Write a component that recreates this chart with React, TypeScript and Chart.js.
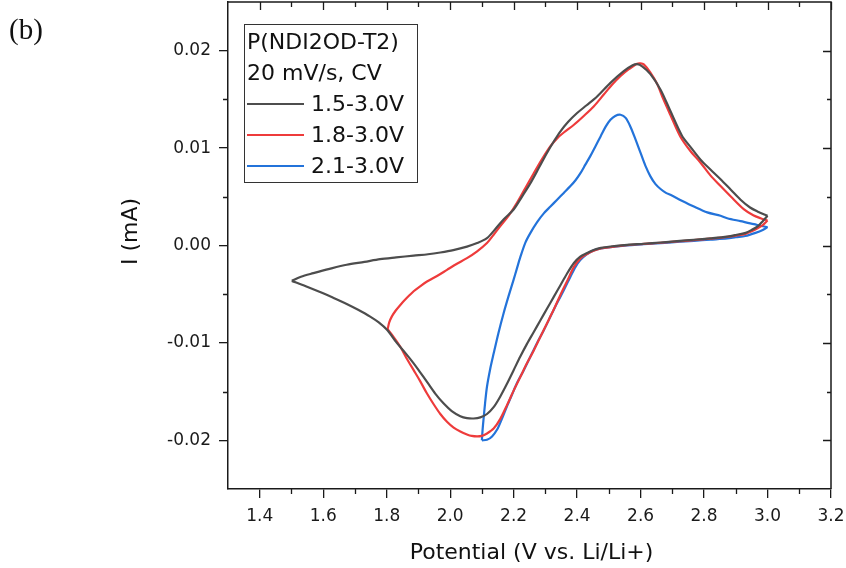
import React, { useEffect, useRef } from 'react';
import { Chart, registerables } from 'chart.js';

Chart.register(...registerables);

// Axis ticks
const xMajorTicks = [1.4, 1.6, 1.8, 2.0, 2.2, 2.4, 2.6, 2.8, 3.0, 3.2];
const xMinorTicks = [1.5, 1.7, 1.9, 2.1, 2.3, 2.5, 2.7, 2.9, 3.1];
const yMajorTicks = [-0.02, -0.01, 0, 0.01, 0.02];
const yMinorTicks = [-0.015, -0.005, 0.005, 0.015];

const xTitle = 'Potential (V vs. Li/Li+)';
const yTitle = 'I (mA)';
const panelLabel = '(b)';
const legendHeader = ['P(NDI2OD-T2)', '20 mV/s, CV'];
const seriesNames = ['1.5-3.0V', '1.8-3.0V', '2.1-3.0V'];
const seriesColors = ['#4d4d4d', '#ee3b3b', '#2373da'];

// 1.5-3.0 V : anodic (1.5 -> 3.0) and cathodic (3.0 -> 1.5) scans, [V, mA]
const black15Anodic = [
  [1.501, -0.00363], [1.53, -0.0032], [1.569, -0.00284], [1.62, -0.0024], [1.674, -0.00198],
  [1.73, -0.00168], [1.779, -0.0014], [1.83, -0.00122], [1.885, -0.00104], [1.93, -0.0009],
  [1.969, -0.00072], [2.01, -0.00048], [2.053, -0.00012], [2.085, 0.00025], [2.116, 0.00076],
  [2.14, 0.0016], [2.169, 0.0027], [2.2, 0.0037], [2.226, 0.005], [2.253, 0.0064],
  [2.28, 0.008], [2.305, 0.0095], [2.327, 0.0107], [2.347, 0.0117], [2.372, 0.0127],
  [2.4, 0.0136], [2.43, 0.0144], [2.463, 0.0153], [2.505, 0.0167], [2.547, 0.0179],
  [2.575, 0.0185], [2.589, 0.01862], [2.605, 0.0184], [2.631, 0.0176], [2.663, 0.016],
  [2.694, 0.0138], [2.73, 0.0113], [2.76, 0.01], [2.789, 0.0088], [2.82, 0.0078],
  [2.852, 0.0068], [2.885, 0.0057], [2.915, 0.0047], [2.945, 0.0039], [2.968, 0.0035],
  [3.0, 0.00305],
];
const black15Cathodic = [
  [3.0, 0.00305], [2.985, 0.0025], [2.97, 0.002], [2.95, 0.0016], [2.931, 0.0013],
  [2.9, 0.00108], [2.873, 0.00092], [2.82, 0.00074], [2.768, 0.00059], [2.715, 0.00045],
  [2.663, 0.00031], [2.61, 0.00018], [2.558, 0.00007], [2.505, -0.0001], [2.475, -0.00025],
  [2.452, -0.00046], [2.43, -0.0008], [2.41, -0.00115], [2.39, -0.0018], [2.368, -0.0029],
  [2.347, -0.0041], [2.326, -0.0053], [2.305, -0.0065], [2.284, -0.0077], [2.263, -0.0089],
  [2.242, -0.0101], [2.221, -0.0114], [2.2, -0.0128], [2.179, -0.0142], [2.158, -0.0155],
  [2.137, -0.0166], [2.116, -0.0173], [2.095, -0.01765], [2.074, -0.01776], [2.053, -0.01772],
  [2.032, -0.01752], [2.005, -0.017], [1.979, -0.0162], [1.953, -0.0152], [1.927, -0.014],
  [1.905, -0.013], [1.885, -0.0121], [1.858, -0.011], [1.832, -0.01], [1.801, -0.00866],
  [1.775, -0.0079], [1.748, -0.0073], [1.71, -0.0066], [1.674, -0.006], [1.63, -0.00535],
  [1.59, -0.00478], [1.545, -0.00418], [1.501, -0.00363],
];

// 1.8-3.0 V
const red18Anodic = [
  [1.803, -0.0086], [1.808, -0.0079], [1.816, -0.0073], [1.828, -0.0067], [1.843, -0.0061],
  [1.863, -0.0054], [1.885, -0.0047], [1.905, -0.0042], [1.927, -0.0037], [1.96, -0.0031],
  [1.99, -0.0025], [2.02, -0.0019], [2.053, -0.0013], [2.085, -0.0006], [2.116, 0.00025],
  [2.137, 0.0011], [2.158, 0.002], [2.185, 0.0031], [2.211, 0.0044], [2.237, 0.0059],
  [2.263, 0.0074], [2.29, 0.0089], [2.316, 0.0102], [2.337, 0.011], [2.358, 0.0116],
  [2.39, 0.0124], [2.421, 0.0133], [2.453, 0.0143], [2.484, 0.0155], [2.51, 0.0165],
  [2.537, 0.0174], [2.563, 0.0181], [2.589, 0.01867], [2.6, 0.0187], [2.61, 0.0186],
  [2.63, 0.0178], [2.652, 0.0166], [2.672, 0.015], [2.694, 0.0134], [2.725, 0.0112],
  [2.757, 0.0097], [2.789, 0.0085], [2.82, 0.0072], [2.852, 0.0061], [2.885, 0.005],
  [2.926, 0.0037], [2.955, 0.0031], [2.978, 0.0028], [3.0, 0.00257],
];
const red18Cathodic = [
  [3.0, 0.00257], [2.985, 0.0021], [2.97, 0.0018], [2.95, 0.00145], [2.931, 0.0012],
  [2.9, 0.00102], [2.873, 0.00089], [2.82, 0.0007], [2.768, 0.00055], [2.715, 0.00042],
  [2.663, 0.00028], [2.61, 0.00016], [2.558, 0.00004], [2.505, -0.00016], [2.475, -0.0003],
  [2.452, -0.00054], [2.43, -0.0009], [2.41, -0.00135], [2.39, -0.0022], [2.368, -0.0037],
  [2.347, -0.0051], [2.326, -0.0066], [2.305, -0.008], [2.284, -0.0094], [2.263, -0.0108],
  [2.242, -0.0121], [2.221, -0.0135], [2.2, -0.0149], [2.179, -0.0164], [2.158, -0.0178],
  [2.137, -0.0188], [2.116, -0.0193], [2.1, -0.01955], [2.085, -0.0196], [2.068, -0.01955],
  [2.053, -0.0194], [2.032, -0.0191], [2.011, -0.0187], [1.99, -0.0181], [1.969, -0.0173],
  [1.948, -0.0163], [1.927, -0.0152], [1.905, -0.0139], [1.885, -0.0128], [1.863, -0.0116],
  [1.843, -0.0104], [1.822, -0.0094], [1.803, -0.0086],
];

// 2.1-3.0 V
const blue21Anodic = [
  [2.1, -0.02], [2.102, -0.019], [2.105, -0.0179], [2.11, -0.0162], [2.116, -0.0145],
  [2.126, -0.0127], [2.137, -0.0111], [2.152, -0.009], [2.168, -0.007], [2.184, -0.0052],
  [2.2, -0.0035], [2.21, -0.0024], [2.221, -0.0012], [2.237, 0.0003], [2.253, 0.0013],
  [2.274, 0.0024], [2.295, 0.0033], [2.316, 0.004], [2.337, 0.0047], [2.358, 0.0054],
  [2.379, 0.0061], [2.395, 0.0067], [2.41, 0.0074], [2.426, 0.0083], [2.442, 0.0092],
  [2.458, 0.0102], [2.474, 0.0112], [2.49, 0.0122], [2.505, 0.0129], [2.52, 0.0133],
  [2.537, 0.01342], [2.553, 0.0131], [2.568, 0.0122], [2.584, 0.0109], [2.6, 0.0095],
  [2.615, 0.0082], [2.631, 0.0071], [2.647, 0.0063], [2.663, 0.0058], [2.68, 0.0054],
  [2.694, 0.0052], [2.73, 0.0046], [2.768, 0.004], [2.81, 0.0034], [2.852, 0.00305],
  [2.873, 0.0028], [2.915, 0.0025], [2.957, 0.0022], [2.98, 0.002], [3.0, 0.00189],
];
const blue21Cathodic = [
  [3.0, 0.00189], [2.985, 0.0016], [2.962, 0.0013], [2.93, 0.00098], [2.9, 0.00085],
  [2.873, 0.00072], [2.82, 0.0006], [2.768, 0.00048], [2.715, 0.00036], [2.663, 0.00025],
  [2.61, 0.00013], [2.558, 0.00002], [2.505, -0.00016], [2.475, -0.0003], [2.452, -0.0005],
  [2.43, -0.0009], [2.41, -0.0015], [2.395, -0.0022], [2.379, -0.0032], [2.358, -0.0046],
  [2.337, -0.0059], [2.316, -0.0073], [2.295, -0.0087], [2.274, -0.01], [2.253, -0.0114],
  [2.232, -0.0128], [2.211, -0.0141], [2.195, -0.0153], [2.179, -0.0165], [2.163, -0.0178],
  [2.148, -0.0189], [2.132, -0.0196], [2.116, -0.01995], [2.1, -0.02],
];

const X_MIN = 1.3;
const X_MAX = 3.2;
const Y_MIN = -0.025;
const Y_MAX = 0.025;

const SANS = '"DejaVu Sans", "Liberation Sans", Arial, sans-serif';
const AXIS = '#1a1a1a';

const toPts = (arr: number[][]) => arr.map(([x, y]) => ({ x, y }));

const decorPlugin = {
  id: 'decor',
  afterDraw(chart: any) {
    const { ctx, chartArea } = chart;
    const xs = chart.scales.x;
    const ys = chart.scales.y;
    const { left, right, top, bottom } = chartArea;
    ctx.save();
    ctx.strokeStyle = AXIS;
    ctx.lineWidth = 1.5;
    // top and right frame
    ctx.beginPath();
    ctx.moveTo(left, top);
    ctx.lineTo(right, top);
    ctx.lineTo(right, bottom);
    ctx.stroke();

    ctx.lineWidth = 1.3;
    ctx.beginPath();
    xMinorTicks.forEach((v) => {
      const px = Math.round(xs.getPixelForValue(v)) + 0.5;
      ctx.moveTo(px, bottom);
      ctx.lineTo(px, bottom + 5);
      ctx.moveTo(px, top);
      ctx.lineTo(px, top + 5);
    });
    xMajorTicks.forEach((v) => {
      const px = Math.round(xs.getPixelForValue(v)) + 0.5;
      ctx.moveTo(px, top);
      ctx.lineTo(px, top + 8);
    });
    yMinorTicks.forEach((v) => {
      const py = Math.round(ys.getPixelForValue(v)) + 0.5;
      ctx.moveTo(left, py);
      ctx.lineTo(left - 5, py);
      ctx.moveTo(right, py);
      ctx.lineTo(right - 4, py);
    });
    yMajorTicks.forEach((v) => {
      const py = Math.round(ys.getPixelForValue(v)) + 0.5;
      ctx.moveTo(right, py);
      ctx.lineTo(right - 8, py);
    });
    ctx.stroke();

    // axis titles
    ctx.fillStyle = '#111';
    ctx.font = `22px ${SANS}`;
    ctx.textAlign = 'center';
    ctx.textBaseline = 'alphabetic';
    ctx.fillText(xTitle, (left + right) / 2 + 2, 559);
    ctx.save();
    ctx.translate(137, 231.5);
    ctx.rotate(-Math.PI / 2);
    ctx.fillText(yTitle, 0, 0);
    ctx.restore();

    // panel label
    ctx.font = '29px "Liberation Serif", "Times New Roman", serif';
    ctx.textAlign = 'left';
    ctx.fillText(panelLabel, 9, 39);

    // legend box
    const bx = 244.5, by = 24.5, bw = 173, bh = 158;
    ctx.fillStyle = '#ffffff';
    ctx.fillRect(bx, by, bw, bh);
    ctx.strokeStyle = '#333';
    ctx.lineWidth = 1;
    ctx.strokeRect(bx, by, bw, bh);
    ctx.fillStyle = '#111';
    ctx.font = `22px ${SANS}`;
    ctx.textAlign = 'left';
    ctx.textBaseline = 'middle';
    ctx.fillText(legendHeader[0], 247, 43);
    ctx.fillText(legendHeader[1], 247, 74);
    const rowsY = [104, 135, 166];
    seriesNames.forEach((name, i) => {
      ctx.strokeStyle = seriesColors[i];
      ctx.lineWidth = 2.2;
      ctx.beginPath();
      ctx.moveTo(247, rowsY[i]);
      ctx.lineTo(304, rowsY[i]);
      ctx.stroke();
      ctx.fillStyle = '#111';
      ctx.fillText(name, 311, rowsY[i] + 1);
    });
    ctx.restore();
  },
};

export default function App() {
  const canvasRef = useRef<HTMLCanvasElement | null>(null);

  useEffect(() => {
    if (!canvasRef.current) return;
    const line = (data: number[][], color: string, label: string) => ({
      label,
      data: toPts(data),
      showLine: true,
      borderColor: color,
      backgroundColor: color,
      borderWidth: 2.2,
      pointRadius: 0,
      tension: 0.3,
      fill: false,
    });
    const chart = new Chart(canvasRef.current, {
      type: 'scatter',
      data: {
        datasets: [
          line(black15Anodic, seriesColors[0], seriesNames[0]),
          line(black15Cathodic, seriesColors[0], seriesNames[0]),
          line(red18Anodic, seriesColors[1], seriesNames[1]),
          line(red18Cathodic, seriesColors[1], seriesNames[1]),
          line(blue21Anodic, seriesColors[2], seriesNames[2]),
          line(blue21Cathodic, seriesColors[2], seriesNames[2]),
        ],
      },
      options: {
        animation: false,
        responsive: false,
        maintainAspectRatio: false,
        layout: { padding: { left: 0, top: 2, right: 15, bottom: 0 } },
        plugins: {
          legend: { display: false },
          tooltip: { enabled: false },
        },
        scales: {
          x: {
            type: 'linear',
            min: X_MIN,
            max: X_MAX,
            afterBuildTicks: (s: any) => {
              s.ticks = xMajorTicks.map((value) => ({ value }));
            },
            afterFit: (s: any) => {
              s.height = 79;
              s.paddingLeft = 0;
              s.paddingRight = 0;
            },
            ticks: {
              color: '#1a1a1a',
              font: { family: SANS, size: 17 },
              padding: 8,
              maxRotation: 0,
              autoSkip: false,
              callback: (v: any) => Number(v).toFixed(1),
            },
            grid: {
              display: true,
              drawOnChartArea: false,
              drawTicks: true,
              tickLength: 9,
              color: AXIS,
              lineWidth: 1.3,
            },
            border: { display: true, color: AXIS, width: 1.5 },
          },
          y: {
            type: 'linear',
            min: Y_MIN,
            max: Y_MAX,
            afterBuildTicks: (s: any) => {
              s.ticks = yMajorTicks.map((value) => ({ value }));
            },
            afterFit: (s: any) => {
              s.width = 228;
              s.paddingTop = 0;
              s.paddingBottom = 0;
            },
            ticks: {
              color: '#1a1a1a',
              font: { family: SANS, size: 17 },
              padding: 8,
              autoSkip: false,
              callback: (v: any) => Number(v).toFixed(2),
            },
            grid: {
              display: true,
              drawOnChartArea: false,
              drawTicks: true,
              tickLength: 9,
              color: AXIS,
              lineWidth: 1.3,
            },
            border: { display: true, color: AXIS, width: 1.5 },
          },
        },
      },
      plugins: [decorPlugin],
    } as any);
    return () => chart.destroy();
  }, []);

  return (
    <div style={{ position: 'fixed', left: 0, top: 0, width: 846, height: 568, background: '#fff' }}>
      <canvas ref={canvasRef} width={846} height={568} style={{ width: 846, height: 568, display: 'block' }} />
    </div>
  );
}
